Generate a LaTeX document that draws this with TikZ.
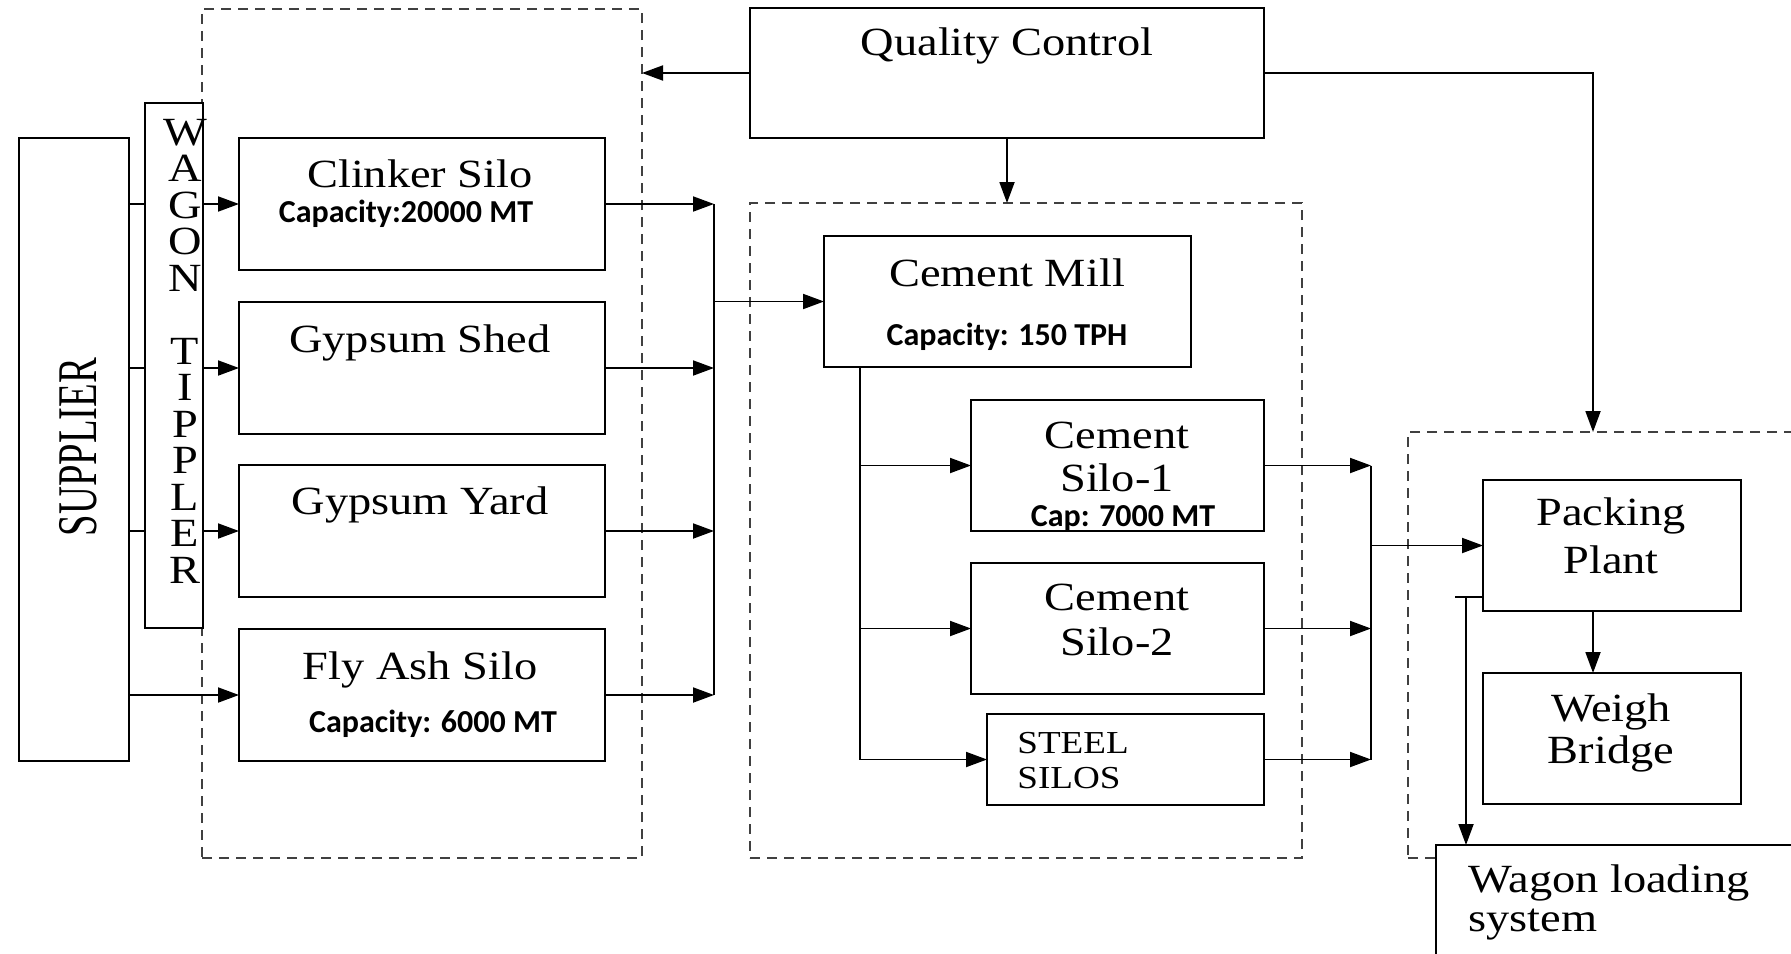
\documentclass[tikz,border=0pt]{standalone}
\usepackage{fontspec}
\setmainfont{Liberation Serif}[FakeStretch=1.16]
\newfontfamily\plainserif{Liberation Serif}
\newfontfamily\capfont{Carlito}
\usetikzlibrary{arrows.meta}
\begin{document}
\begin{tikzpicture}[x=0.5pt,y=-0.5pt,
 box/.style={draw,line width=1pt,fill=white,inner sep=0pt,outer sep=0pt},
 grp/.style={draw=black!75,line width=1pt,dash pattern=on 5pt off 3.5pt,inner sep=0pt,outer sep=0pt},
 lbl/.style={anchor=base,inner sep=0pt,font=\fontsize{20}{22}\selectfont},
 lblw/.style={lbl,anchor=base west},
 capt/.style={anchor=base,inner sep=0pt,font=\capfont\bfseries\fontsize{16}{17}\selectfont},
 ln/.style={line width=0.95pt},
 arr/.style={ln,-{Triangle[length=10.5pt,width=7.5pt]}}]
\fill[white] (0,0) rectangle (1791,953);
\useasboundingbox (0,0) rectangle (1791,953);
% dashed groups
\node[grp,minimum width=220pt,minimum height=424.5pt] (leftgrp) at (422,433.5) {};
\node[grp,minimum width=276pt,minimum height=327.5pt] (midgrp) at (1026,530.5) {};
\node[grp,minimum width=211pt,minimum height=213pt] (rightgrp) at (1619,645) {};
% boxes
\node[box,minimum width=55pt,minimum height=311.5pt] (supplier) at (74,449.5) {};
\node[box,minimum width=29pt,minimum height=262.5pt] (wagon) at (174,365.5) {};
\node[box,minimum width=183pt,minimum height=66pt] (clinker) at (422,204) {};
\node[box,minimum width=183pt,minimum height=66pt] (gshed) at (422,368) {};
\node[box,minimum width=183pt,minimum height=66pt] (gyard) at (422,531) {};
\node[box,minimum width=183pt,minimum height=66pt] (flyash) at (422,695) {};
\node[box,minimum width=257pt,minimum height=65pt] (qc) at (1007,73) {};
\node[box,minimum width=183.5pt,minimum height=65.5pt] (mill) at (1007.5,301.5) {};
\node[box,minimum width=146.5pt,minimum height=65.5pt] (silo1) at (1117.5,465.5) {};
\node[box,minimum width=146.5pt,minimum height=65.5pt] (silo2) at (1117.5,628.5) {};
\node[box,minimum width=138.5pt,minimum height=45.5pt] (steel) at (1125.5,759.5) {};
\node[box,minimum width=129pt,minimum height=65.5pt] (packing) at (1612,545.5) {};
\node[box,minimum width=129pt,minimum height=65.5pt] (weigh) at (1612,738.5) {};
\node[box,minimum width=182pt,minimum height=57.5pt] (wagonload) at (1618,902.5) {};
% texts
\node[inner sep=0pt,rotate=90] (tsup) at (78,447) {\plainserif\fontsize{28}{28}\selectfont\scalebox{0.69}[1]{SUPPLIER}};
\node[inner sep=0pt,align=center,font=\fontsize{20}{18.25}\selectfont] (twag) at (185,351) {W\\A\\G\\O\\N\\[18.25pt]T\\I\\P\\P\\L\\E\\R};
\node[lbl] (tqc) at (1007,55) {Quality Control};
\node[lbl] (tcl) at (420,187) {Clinker Silo};
\node[capt] (ccl) at (406,222) {Capacity:20000 MT};
\node[lbl] (tgs) at (420,352) {Gypsum Shed};
\node[lbl] (tgy) at (420,514) {Gypsum Yard};
\node[lbl] (tfa) at (420,679) {Fly Ash Silo};
\node[capt] (cfa) at (433,732) {Capacity: 6000 MT};
\node[lbl] (tcm) at (1007,286) {Cement Mill};
\node[capt] (ccm) at (1007,345) {Capacity: 150 TPH};
\node[lbl] (ts1a) at (1117,448) {Cement};
\node[lbl] (ts1b) at (1117,491) {Silo-1};
\node[capt] (cs1) at (1123,526) {Cap: 7000 MT};
\node[lbl] (ts2a) at (1117,610) {Cement};
\node[lbl] (ts2b) at (1117,655) {Silo-2};
\node[lblw,font=\fontsize{16}{18}\selectfont] (tsta) at (1017,753) {STEEL};
\node[lblw,font=\fontsize{16}{18}\selectfont] (tstb) at (1017,788) {SILOS};
\node[lbl] (tpa) at (1611,525) {Packing};
\node[lbl] (tpb) at (1611,573) {Plant};
\node[lbl] (twa) at (1611,721) {Weigh};
\node[lbl] (twb) at (1611,763) {Bridge};
\node[lblw] (twla) at (1468,892) {Wagon loading};
\node[lblw] (twlb) at (1468,931) {system};
% supplier -> wagon tippler -> stores
\foreach \b in {clinker,gshed,gyard}{
 \draw[ln] (supplier.east |- \b) -- (wagon.west |- \b);
 \draw[arr] (wagon.east |- \b) -- (\b.west);
}
\draw[arr] (supplier.east |- flyash) -- (flyash.west);
% bus 1
\coordinate (bus1) at (714,0);
\foreach \b in {clinker,gshed,gyard,flyash} \draw[arr] (\b.east) -- (\b.east -| bus1);
\draw[ln] (bus1 |- clinker) -- (bus1 |- flyash);
\draw[arr] (bus1 |- mill) -- (mill.west);
% quality control
\coordinate (rx) at (1593,0);
\draw[arr] (qc.west) -- (qc.west -| leftgrp.east);
\draw[arr] (qc.south) -- (qc.south |- midgrp.north);
\draw[arr] (qc.east) -| (rx |- rightgrp.north);
% mill branch
\coordinate (mb) at (860,0);
\draw[ln] (mb |- mill.south) -- (mb |- steel);
\foreach \b in {silo1,silo2,steel} \draw[arr] (mb |- \b) -- (\b.west);
% bus 2
\coordinate (bus2) at (1371,0);
\foreach \b in {silo1,silo2,steel} \draw[arr] (\b.east) -- (\b.east -| bus2);
\draw[ln] (bus2 |- silo1) -- (bus2 |- steel);
\draw[arr] (bus2 |- packing) -- (packing.west);
% packing
\draw[arr] (rx |- packing.south) -- (rx |- weigh.north);
\coordinate (wt) at (1455,597);
\coordinate (wv) at (1466,597);
\draw[ln] (wt) -- (wt -| packing.west);
\draw[arr] (wv) -- (wv |- wagonload.north);
\end{tikzpicture}
\end{document}
